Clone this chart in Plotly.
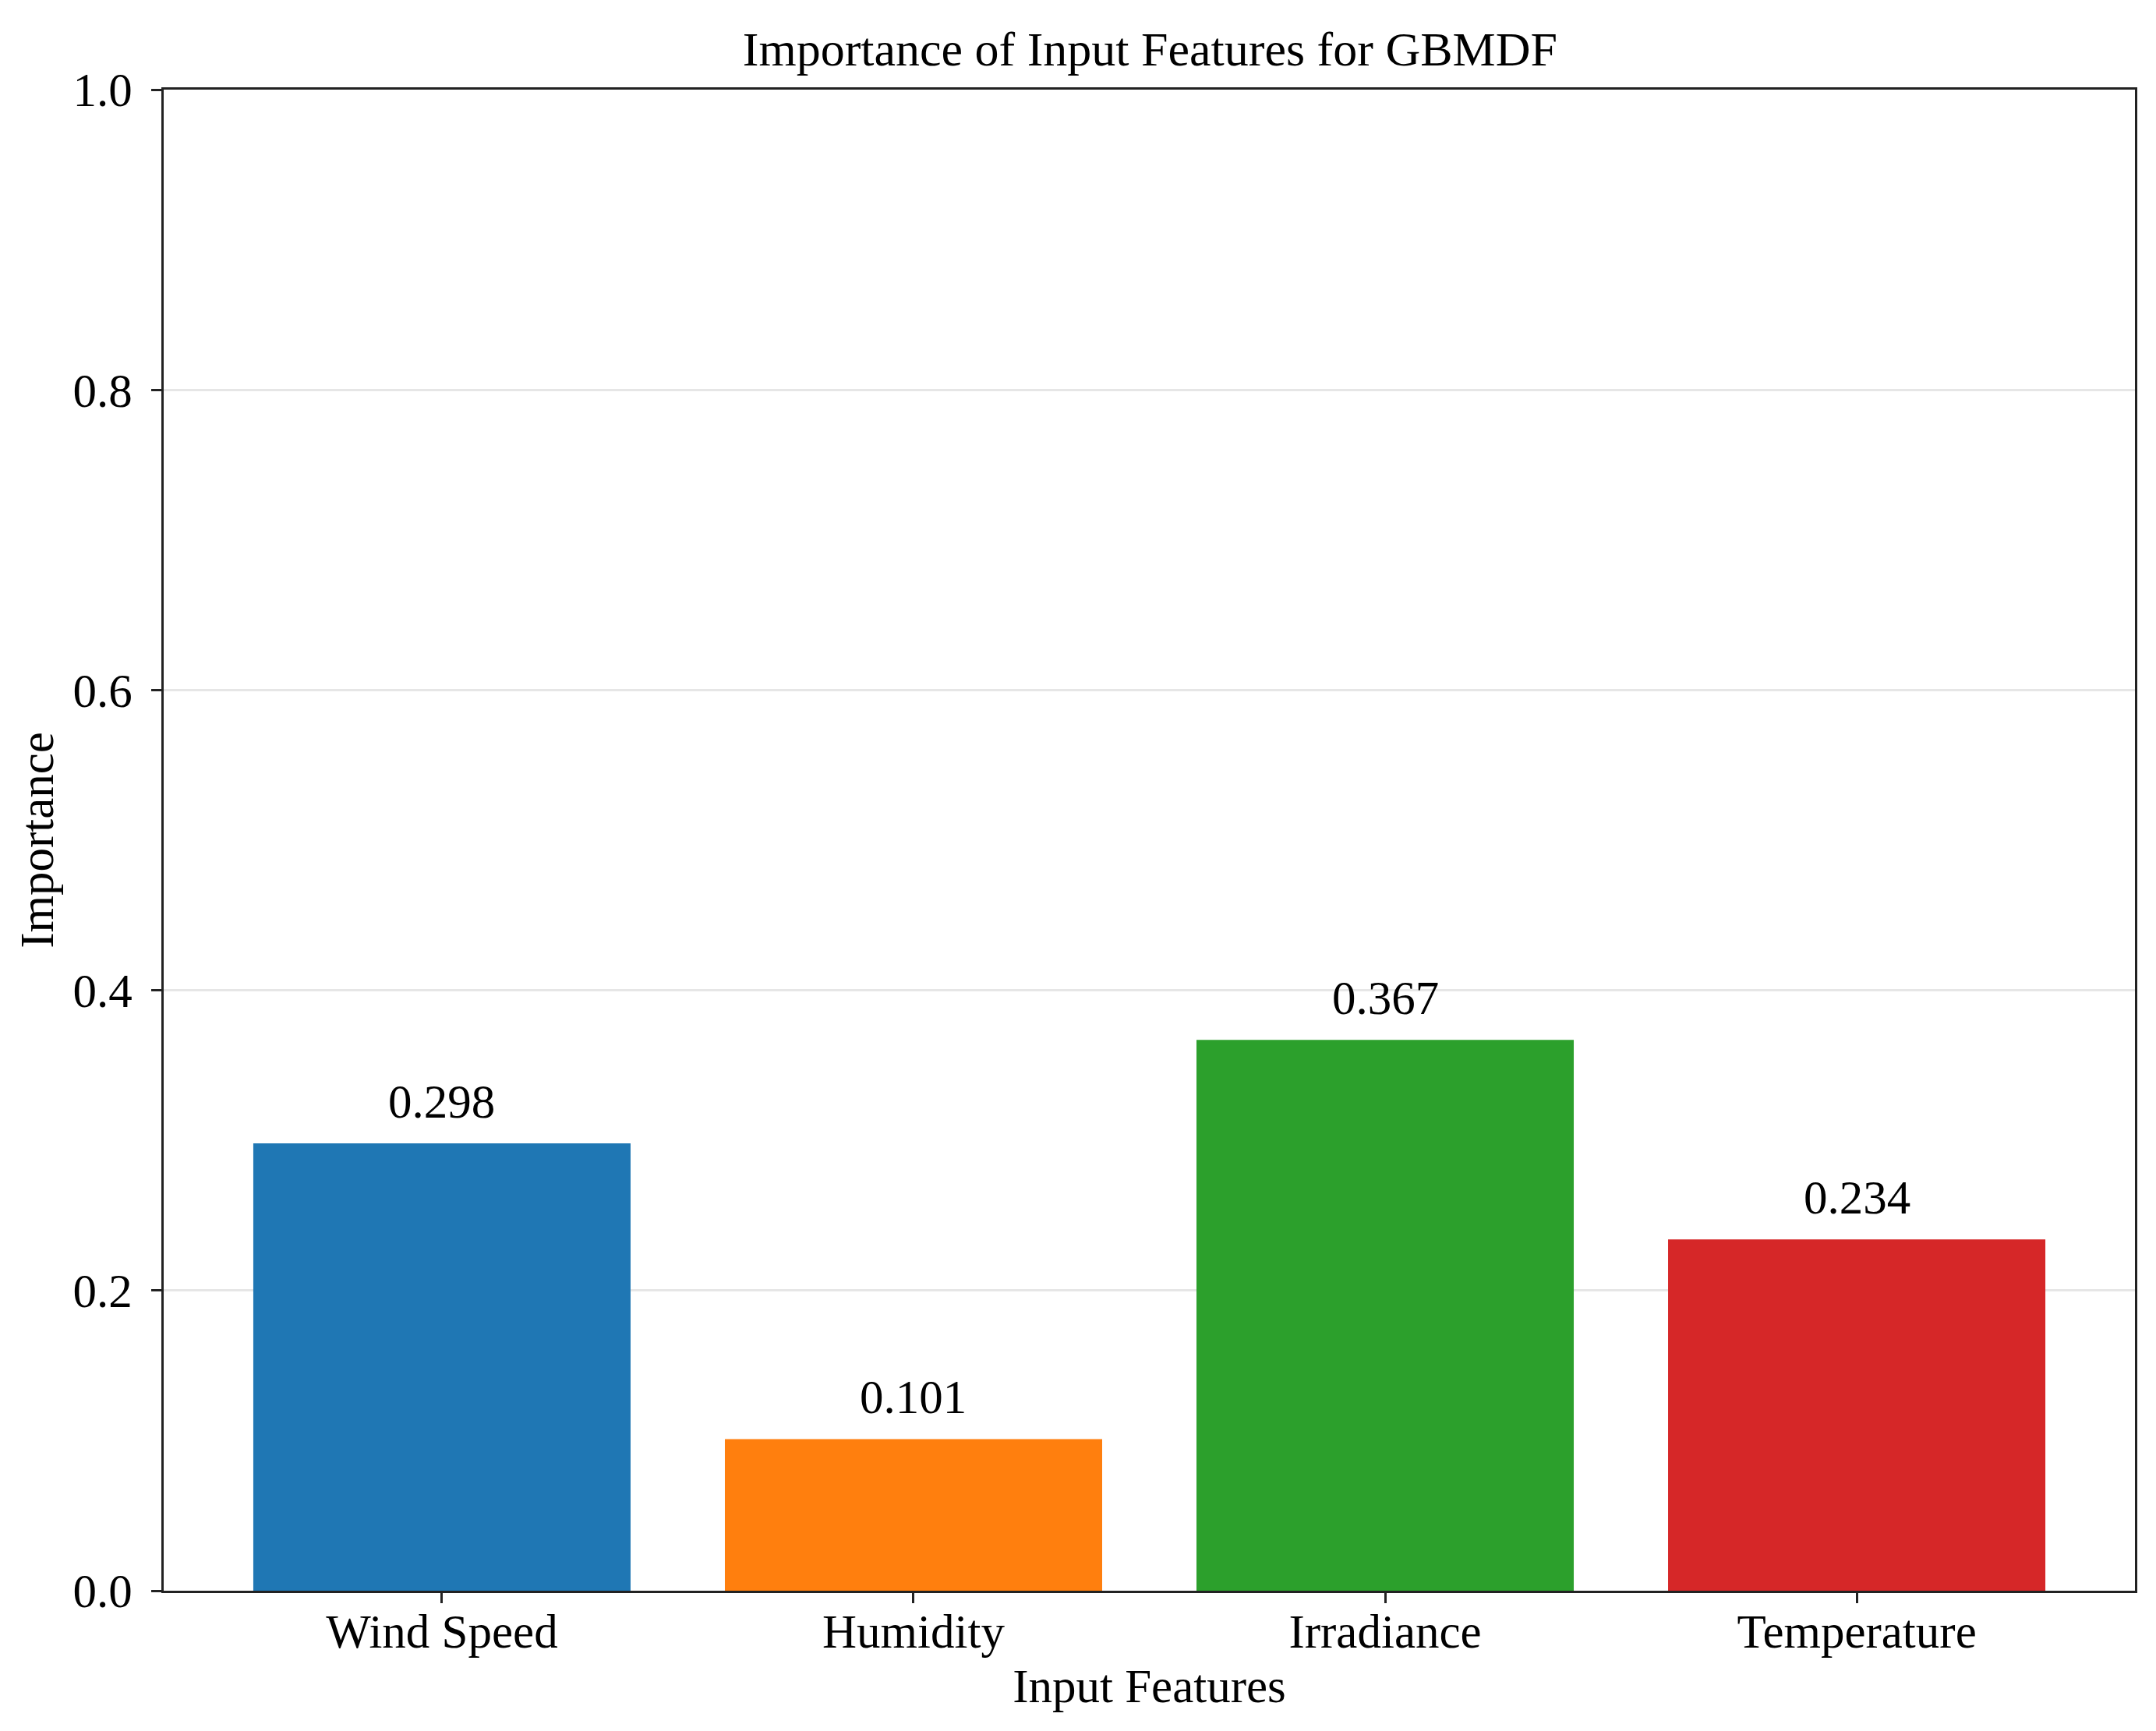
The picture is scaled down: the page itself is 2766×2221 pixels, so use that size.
import plotly.graph_objects as go

features = ["Wind Speed", "Humidity", "Irradiance", "Temperature"]
importance = [0.298, 0.101, 0.367, 0.234]
bar_colors = ["#1f77b4", "#ff7f0e", "#2ca02c", "#d62728"]
value_labels = ["0.298", "0.101", "0.367", "0.234"]
y_ticks = [0.0, 0.2, 0.4, 0.6, 0.8, 1.0]
y_tick_text = ["0.0", "0.2", "0.4", "0.6", "0.8", "1.0"]

W, H = 2766, 2221
FONT = "Liberation Serif, Times New Roman, serif"
FS = 61

fig = go.Figure()
fig.add_trace(go.Bar(
    x=features, y=importance,
    marker=dict(color=bar_colors, line=dict(width=0)),
    width=0.8, showlegend=False,
))

for f, v, t in zip(features, importance, value_labels):
    fig.add_annotation(x=f, y=v, text=t, showarrow=False,
                       yanchor="bottom", xanchor="center", yshift=18,
                       font=dict(family=FONT, size=FS, color="black"))

fig.update_layout(
    width=W, height=H,
    margin=dict(l=202, r=35, t=107, b=188, pad=0),
    paper_bgcolor="white", plot_bgcolor="white",
    font=dict(family=FONT, size=FS, color="black"),
    title=dict(text="Importance of Input Features for GBMDF",
               x=0.5305, xanchor="center", xref="container",
               y=1 - 54 / H, yanchor="middle", yref="container",
               font=dict(family=FONT, size=FS + 1, color="black")),
    bargap=0.2,
)

fig.update_xaxes(
    range=[-0.59, 3.59],
    showline=True, linecolor="#222222", linewidth=3, mirror=True,
    ticks="outside", ticklen=13, tickwidth=3, tickcolor="#222222",
    showgrid=False, zeroline=False,
    ticklabelstandoff=-16,
    tickfont=dict(family=FONT, size=FS, color="black"),
    title=dict(text="Input Features", standoff=16,
               font=dict(family=FONT, size=FS, color="black")),
)
fig.update_yaxes(
    range=[0, 1.0],
    tickvals=y_ticks, ticktext=y_tick_text,
    showline=True, linecolor="#222222", linewidth=3, mirror=True,
    ticks="outside", ticklen=13, tickwidth=3, tickcolor="#222222",
    showgrid=True, gridcolor="#e6e6e6", gridwidth=2.5, zeroline=False,
    ticklabelstandoff=12,
    tickfont=dict(family=FONT, size=FS, color="black"),
    title=dict(text="Importance", standoff=6,
               font=dict(family=FONT, size=FS, color="black")),
)

fig.write_html("out.html")
